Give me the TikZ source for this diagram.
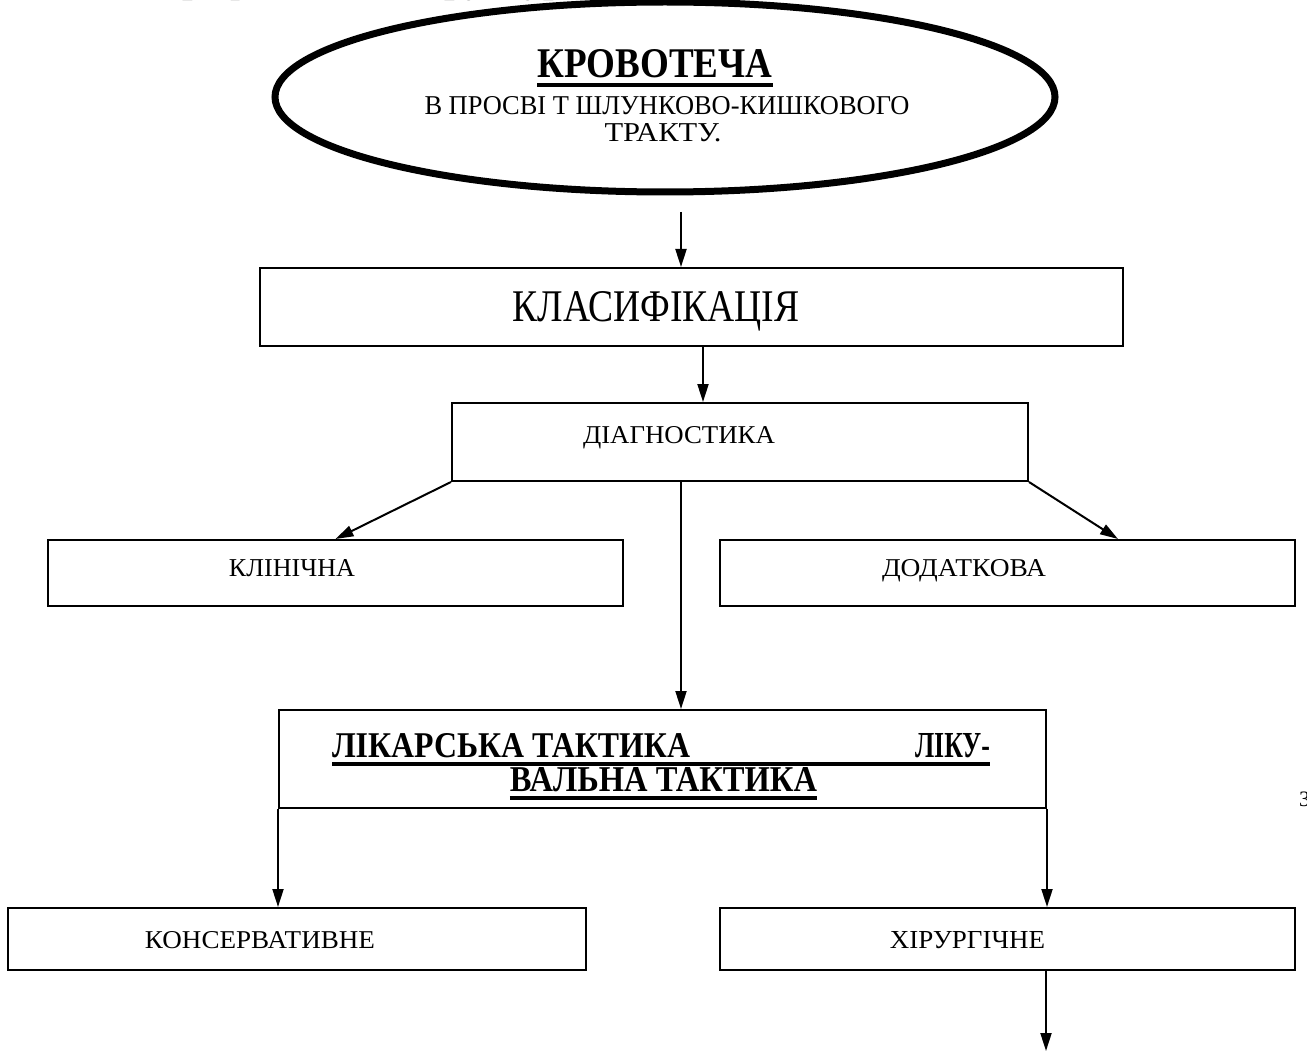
\documentclass[tikz,border=0pt]{standalone}
\usepackage{fontspec}
\setmainfont{Liberation Serif}
\usetikzlibrary{arrows.meta,shapes.geometric}
\newcommand\fitx[3]{\resizebox{#1pt}{#2pt}{#3}}
\newcommand\thul[1]{\vtop{\hbox{#1}\kern5pt\hrule height 4pt}}
\tikzset{
  box/.style={draw, line width=2pt, rectangle, inner sep=0pt},
  lbl/.style={inner sep=0pt, anchor=base},
  arr/.style={-{Triangle[length=18pt,width=11pt]}, line width=2pt},
}
\begin{document}
\begin{tikzpicture}[x=1pt,y=-1pt]
\useasboundingbox (0,0) rectangle (1307,1051);
\fill[white] (0,0) rectangle (1307,1051);
% cut-off heading at the top edge
\node[inner sep=0pt, anchor=base west, font=\fontsize{38}{44}\selectfont\bfseries] (head) at (160,-7) {Граф логічної структури};
% ellipse
\node[draw, ellipse, line width=7pt, minimum width=780pt, minimum height=190pt, inner sep=0pt] (krov) at (665,97) {};
\node[lbl] (krovT1) at (655,78) {\thul{\fitx{235}{28}{\bfseries КРОВОТЕЧА}}};
\node[lbl] (krovT2) at (667,115) {\fitx{485}{18}{В ПРОСВІ Т ШЛУНКОВО-КИШКОВОГО}};
\node[lbl] (krovT3) at (663,142) {\fitx{117}{18}{ТРАКТУ.}};
% boxes
\node[box, minimum width=863pt, minimum height=78pt] (klas) at (691.5,307) {};
\node[lbl] (klasT) at (656,321) {\fitx{287}{30}{КЛАСИФІКАЦІЯ}};
\node[box, minimum width=576pt, minimum height=78pt] (diag) at (740,442) {};
\node[lbl] (diagT) at (679,443) {\fitx{192}{17}{ДІАГНОСТИКА}};
\node[box, minimum width=575pt, minimum height=66pt] (klin) at (335.5,573) {};
\node[lbl] (klinT) at (292,576) {\fitx{126}{17}{КЛІНІЧНА}};
\node[box, minimum width=575pt, minimum height=66pt] (dod) at (1007.5,573) {};
\node[lbl] (dodT) at (964,576) {\fitx{164}{17}{ДОДАТКОВА}};
\node[box, minimum width=767pt, minimum height=98pt] (lik) at (662.5,759) {};
\node[lbl] (likT1) at (661,757) {\thul{\hbox to 658pt{\bfseries\fitx{358}{24}{ЛІКАРСЬКА ТАКТИКА}\hfil\fitx{75}{24}{ЛІКУ-}}}};
\node[lbl] (likT2) at (663.5,791) {\thul{\fitx{307}{24}{\bfseries ВАЛЬНА ТАКТИКА}}};
\node[box, minimum width=578pt, minimum height=62pt] (kons) at (297,939) {};
\node[lbl] (konsT) at (260,948) {\fitx{230}{17}{КОНСЕРВАТИВНЕ}};
\node[box, minimum width=575pt, minimum height=62pt] (hir) at (1007.5,939) {};
\node[lbl] (hirT) at (967.5,948) {\fitx{155}{17}{ХІРУРГІЧНЕ}};
% page number fragment
\node[inner sep=0pt, anchor=base west, font=\fontsize{22}{24}\selectfont] (pg) at (1299,806) {3};
% connectors
\coordinate (c1) at (681,212);
\coordinate (c2) at (703,0);
\coordinate (c4) at (1118,0);
\coordinate (c5) at (681,0);
\coordinate (c8) at (1046,1051);
\draw[arr] (c1) -- (c1 |- klas.north);
\draw[arr] (klas.south -| c2) -- (diag.north -| c2);
\draw[arr] (diag.south west) -- (klin.north);
\draw[arr] (diag.south east) -- (dod.north -| c4);
\draw[arr] (diag.south -| c5) -- (lik.north -| c5);
\draw[arr] (lik.south west) -- (kons.north -| lik.south west);
\draw[arr] (lik.south east) -- (hir.north -| lik.south east);
\draw[arr] (hir.south -| c8) -- (c8);
\end{tikzpicture}
\end{document}
